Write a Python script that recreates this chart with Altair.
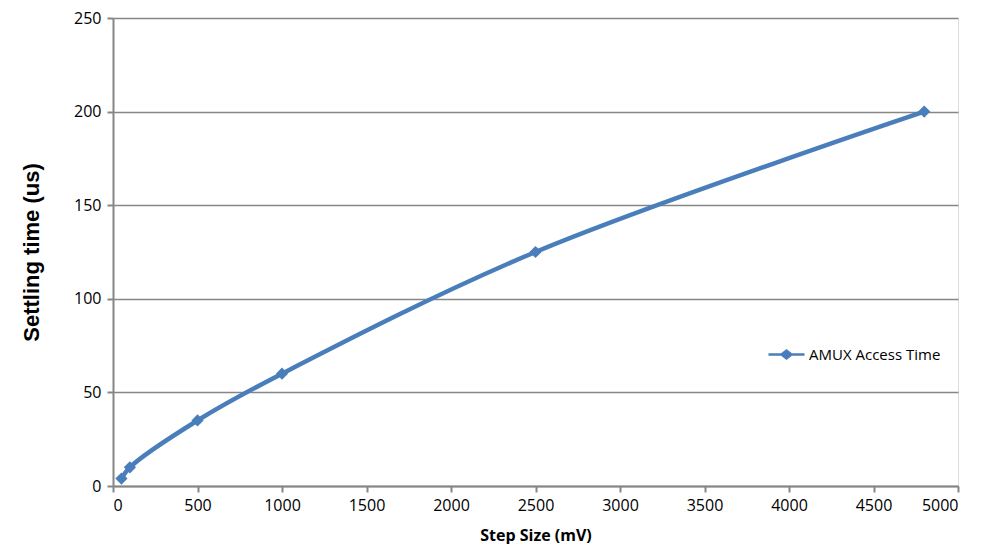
import altair as alt
import pandas as pd

step_mv = [50, 100, 500, 1000, 2500, 4800]
settle_us = [4, 10, 35, 60, 125, 200]
series = ["AMUX Access Time"] * len(step_mv)

df = pd.DataFrame({"step": step_mv, "time": settle_us, "series": series})

blue = "#4A7EBB"
gray = "#868686"

legend_path = ("M-1,-0.07L-0.3,-0.07L0,-0.3L0.3,-0.07L1,-0.07L1,0.07L0.3,0.07"
               "L0,0.3L-0.3,0.07L-1,0.07Z")

x = alt.X("step:Q", title="Step Size (mV)",
          scale=alt.Scale(domain=[0, 5000], nice=False),
          axis=alt.Axis(values=list(range(0, 5001, 500)), grid=False, format="d",
                        domainColor=gray, domainWidth=2, tickColor=gray,
                        tickWidth=2, tickSize=6, labelFont="Open Sans",
                        labelFontSize=16, labelColor="#000", labelPadding=5,
                        titleFont="Open Sans", titleFontSize=16,
                        titleFontWeight="bold", titleColor="#000",
                        titlePadding=14))
y = alt.Y("time:Q", title="Settling time (us)",
          scale=alt.Scale(domain=[0, 250], nice=False),
          axis=alt.Axis(values=list(range(0, 251, 50)), grid=True, format="d",
                        gridColor=gray, gridWidth=1.5,
                        domainColor=gray, domainWidth=2, tickColor=gray,
                        tickWidth=2, tickSize=6, labelFont="Open Sans",
                        labelFontSize=16, labelColor="#000", labelPadding=6,
                        titleFont="Liberation Sans", titleFontSize=22,
                        titleFontWeight="bold", titleColor="#000",
                        titlePadding=30))
color = alt.Color("series:N",
                  scale=alt.Scale(domain=["AMUX Access Time"], range=[blue]),
                  legend=alt.Legend(title=None, orient="none", legendX=655,
                                    legendY=318, symbolType=legend_path,
                                    symbolSize=1300, symbolStrokeWidth=0,
                                    symbolFillColor=blue,
                                    labelFont="Open Sans", labelFontSize=15,
                                    labelColor="#000", labelOffset=4))

line = alt.Chart(df).mark_line(interpolate="catmull-rom", strokeWidth=4.5,
                               color=blue).encode(x=x, y=y, color=color)
pts = alt.Chart(df).mark_point(shape="diamond", filled=True, size=150,
                               opacity=1, color=blue).encode(x=x, y=y)

chart = (line + pts).properties(
    width=845, height=468,
    autosize=alt.AutoSizeParams(type="none"),
    padding={"left": 105, "top": 10, "right": 18, "bottom": 58},
).configure_view(stroke=None).configure(background="white")

chart.save("out.html", embed_options={"renderer": "svg", "actions": False})
